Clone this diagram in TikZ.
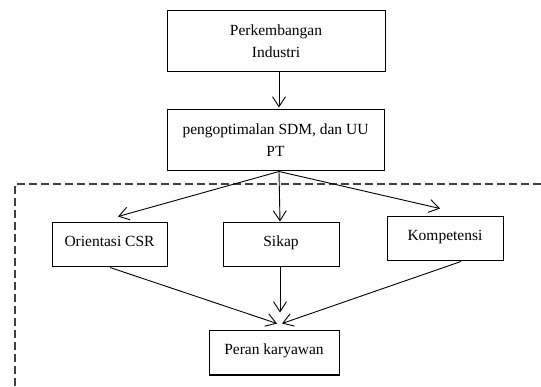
\documentclass[tikz,border=0pt]{standalone}
\usepackage{fontspec}
\setmainfont{Liberation Serif}
\usetikzlibrary{arrows.meta}

\begin{document}
\begin{tikzpicture}[x=1pt, y=-1pt,
    caja/.style={draw, line width=1pt, align=center, inner sep=2pt,
        font=\fontsize{15.5}{22}\selectfont},
    cajita/.style={caja, minimum width=116pt, minimum height=44pt,
        text height=11pt, text depth=7pt},
    flecha/.style={line width=0.9pt, -{Straight Barb[length=10pt,width=13pt]}},
    marco/.style={draw=black!75, line width=1.1pt, dash pattern=on 8pt off 4pt}]
    \useasboundingbox (0,0) rectangle (541,387);

    % -----------------------------------------------------
    % 1) Cajas de arriba
    % -----------------------------------------------------
    \node[caja, minimum width=218pt, minimum height=61pt] (industri) at (276,41.5)
        {Perkembangan\\Industri};
    \node[caja, minimum width=217pt, minimum height=61pt] (sdm) at (275.5,140.5)
        {pengoptimalan SDM, dan UU\\PT};
    \draw[flecha] ([xshift=3pt]industri.south) -- ([xshift=3.5pt,yshift=2pt]sdm.north);

    % -----------------------------------------------------
    % 2) Marco punteado (solo lado superior e izquierdo)
    % -----------------------------------------------------
    \draw[marco] (541,184) -- (15,184) -- (15,387);

    % -----------------------------------------------------
    % 3) Tres factores
    % -----------------------------------------------------
    \node[cajita, minimum width=115pt] (csr) at (109.5,245) {Orientasi CSR};
    \node[cajita] (sikap) at (281,245) {Sikap};
    \node[cajita] (komp) at (445,239) {Kompetensi};

    \draw[flecha] ([xshift=3.5pt]sdm.south) -- ([xshift=8.5pt,yshift=6pt]csr.north);
    \draw[flecha] ([xshift=3.5pt]sdm.south) -- ([xshift=-1pt,yshift=1pt]sikap.north);
    \draw[flecha] ([xshift=3.5pt]sdm.south) -- ([xshift=-5pt,yshift=8pt]komp.north);

    % -----------------------------------------------------
    % 4) Resultado
    % -----------------------------------------------------
    \node[cajita, minimum width=130pt] (peran) at (274,353) {Peran karyawan};

    \draw[flecha] ([xshift=0.5pt]csr.south) -- ([xshift=3pt,yshift=7pt]peran.north);
    \draw[flecha] ([xshift=-1pt]sikap.south) -- ([xshift=6pt,yshift=18pt]peran.north);
    \draw[flecha] ([xshift=16pt]komp.south) -- ([xshift=8pt,yshift=7pt]peran.north);

\end{tikzpicture}
\end{document}
